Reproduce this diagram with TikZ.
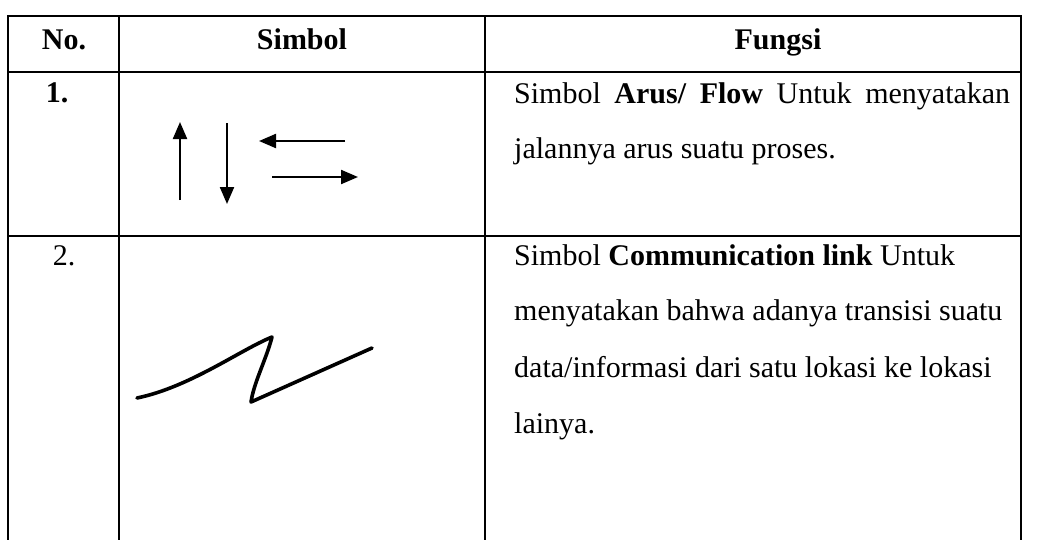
\documentclass[tikz,border=0pt]{standalone}
\usepackage{fontspec}
\setmainfont{Liberation Serif}
\usetikzlibrary{arrows.meta}
\begin{document}
\begin{tikzpicture}[x=1pt,y=-1pt,
  grid/.style={line width=2.4pt,line cap=rect},
  flow/.style={line width=2.2pt,-{Triangle[length=17pt,width=14pt]}},
  txt/.style={anchor=base west,inner sep=0pt,font=\fontsize{30}{36}\selectfont},
  ctr/.style={anchor=base,inner sep=0pt,font=\fontsize{30}{36}\selectfont}]
\useasboundingbox (0,0) rectangle (1062,539);
% table lines
\draw[grid] (8,16) -- (1021,16);
\draw[grid] (8,72) -- (1021,72);
\draw[grid] (8,236) -- (1021,236);
\draw[grid] (8,16) -- (8,539);
\draw[grid] (119,16) -- (119,539);
\draw[grid] (485,16) -- (485,539);
\draw[grid] (1021,16) -- (1021,539);
% header
\node[ctr] (hno) at (64,49) {\textbf{No.}};
\node[ctr] (hsim) at (302,49) {\textbf{Simbol}};
\node[ctr] (hfun) at (778,49) {\textbf{Fungsi}};
% row 1
\node[ctr] (n1) at (57,102) {\textbf{1.}};
\node[txt] (r1a) at (514,103) {\makebox[496pt][s]{Simbol \textbf{Arus/ Flow} Untuk menyatakan}};
\node[txt] (r1b) at (514,158) {jalannya arus suatu proses.};
\coordinate (ua) at (180,200); \coordinate (ub) at (180,122);
\coordinate (da) at (227,123); \coordinate (db) at (227,204);
\coordinate (la) at (345,141); \coordinate (lb) at (259,141);
\coordinate (ra) at (272,177); \coordinate (rb) at (358,177);
\draw[flow] (ua) -- (ub);
\draw[flow] (da) -- (db);
\draw[flow] (la) -- (lb);
\draw[flow] (ra) -- (rb);
% row 2
\node[ctr] (n2) at (64,265) {2.};
\node[txt] (r2a) at (514,265) {Simbol \textbf{Communication link} Untuk};
\node[txt] (r2b) at (514,320) {menyatakan bahwa adanya transisi suatu};
\node[txt] (r2c) at (514,377) {data/informasi dari satu lokasi ke lokasi};
\node[txt] (r2d) at (514,433) {lainya.};
\coordinate (z0) at (137,398);
\coordinate (z1) at (272,337);
\coordinate (z2) at (251,402);
\coordinate (z3) at (372,348);
\draw[line width=3.6pt,line join=round,line cap=round]
  (z0) .. controls (190,387) and (240,350) .. (z1)
  .. controls (266,360) and (254,382) .. (z2) -- (z3);
\end{tikzpicture}
\end{document}
